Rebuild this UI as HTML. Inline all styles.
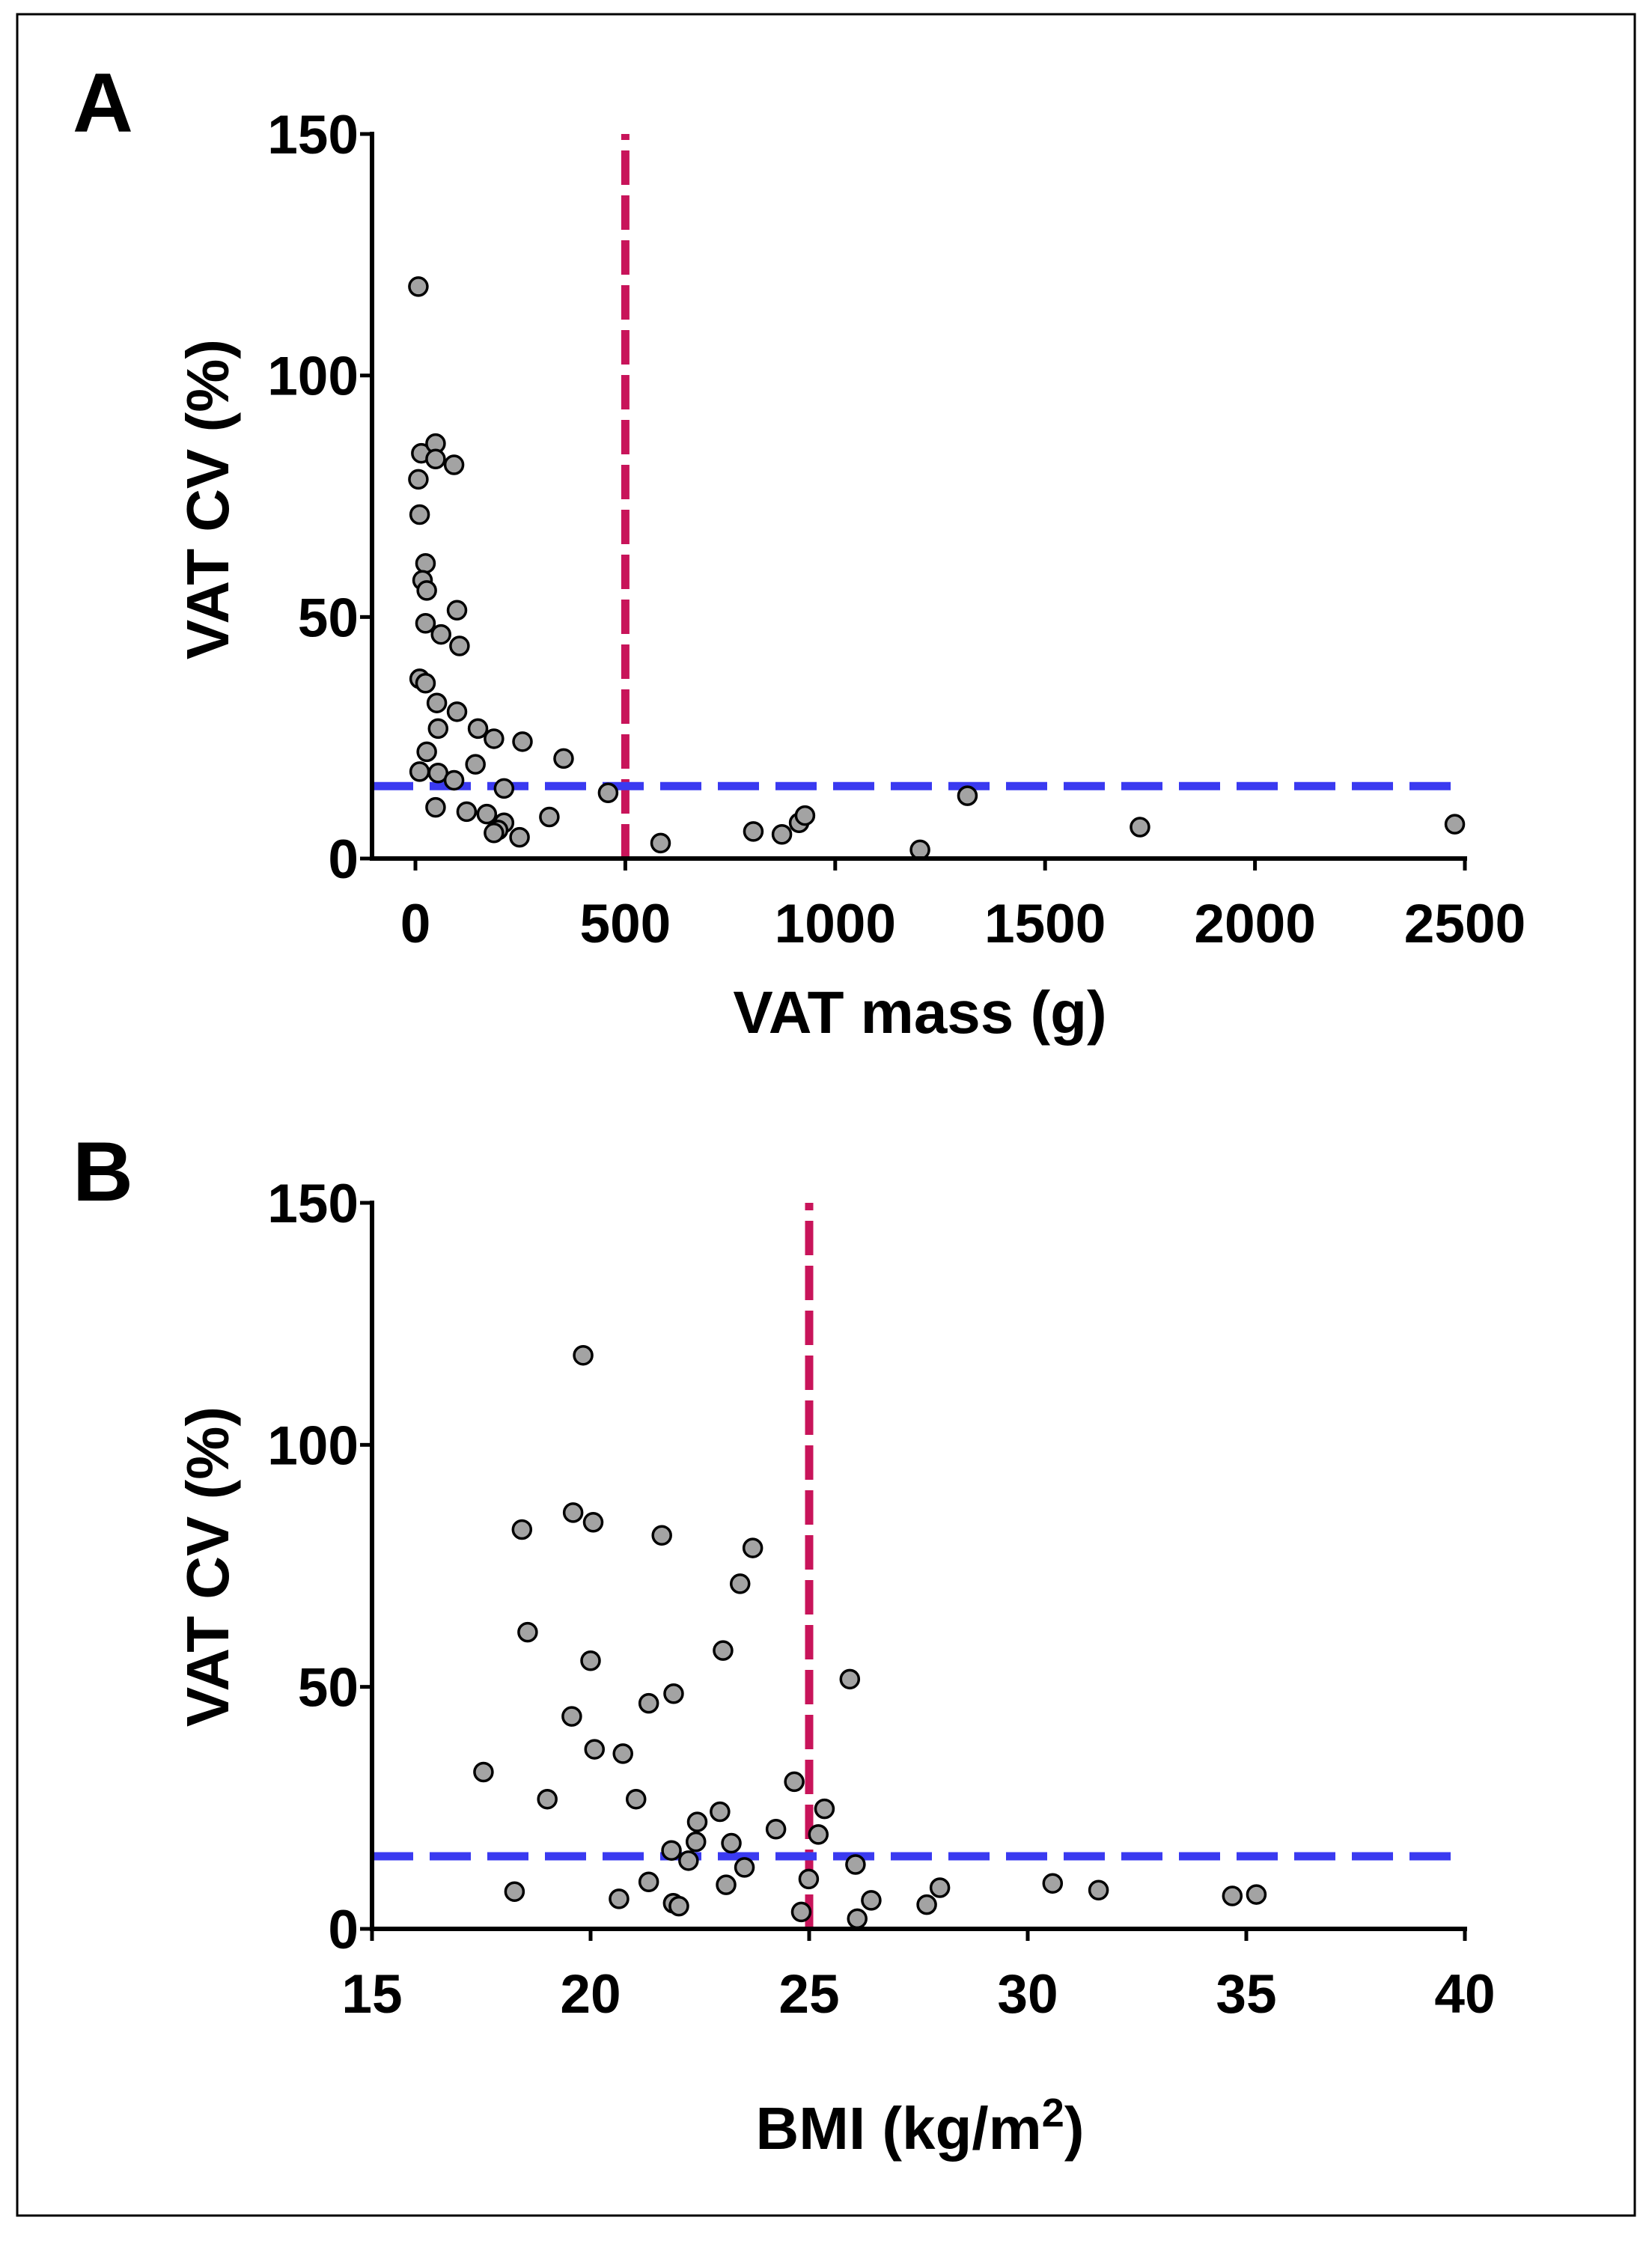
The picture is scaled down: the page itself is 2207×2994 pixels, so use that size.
<!DOCTYPE html>
<html><head><meta charset="utf-8"><style>
html,body{margin:0;padding:0;background:#fff}
svg{display:block}
text{font-family:"Liberation Sans",Arial,sans-serif;font-weight:bold;fill:#000}
</style></head><body>
<svg id="chart" width="2207" height="2994" viewBox="0 0 2207 2994" xmlns="http://www.w3.org/2000/svg">
<rect x="23" y="19" width="2161" height="2941" fill="#fff" stroke="#000" stroke-width="3"/>
</svg>
<script>
const aX=[7,14,48,48,92,7,10,24,17,27,99,24,61,105,10,24,51,99,54,149,187,255,353,27,143,10,54,92,211,459,1315,48,122,170,319,211,197,187,248,584,805,873,914,928,1202,1726,2476];
const aY=[118.4,83.9,85.9,82.7,81.5,78.5,71.2,61.1,57.6,55.5,51.4,48.7,46.4,44,37.2,36.3,32.2,30.4,26.9,26.9,24.8,24.2,20.7,22.1,19.5,18,17.7,16.2,14.5,13.6,13,10.6,9.7,9.2,8.6,7.4,5.9,5.3,4.4,3.2,5.6,5,7.4,8.9,1.8,6.5,7.1];
const bX=[19.83,19.6,20.06,18.43,21.63,23.71,23.42,18.56,20.0,23.03,25.93,21.9,21.33,19.57,20.09,20.74,17.55,24.66,19.01,21.04,22.96,25.35,22.44,24.24,25.21,21.85,22.41,23.22,22.24,26.06,23.52,24.99,21.33,23.1,18.26,27.99,20.65,30.57,31.62,26.42,34.68,35.23,21.89,22.02,27.69,24.82,26.1];
const bY=[118.5,86,84,82.5,81.3,78.7,71.3,61.3,55.4,57.5,51.6,48.6,46.6,43.9,37.1,36.2,32.4,30.4,26.8,26.8,24.2,24.8,22.1,20.6,19.5,16.2,18,17.7,14.1,13.3,12.7,10.3,9.7,9.1,7.7,8.5,6.2,9.4,8,5.9,6.8,7.1,5.3,4.7,5,3.5,2.1];
const aXTicks=[0,500,1000,1500,2000,2500];
const bXTicks=[15,20,25,30,35,40];
const yTicks=[0,50,100,150];
const aThresh=[500,15];
const bThresh=[25,15];

const svg=document.getElementById('chart');
const NS='http://www.w3.org/2000/svg';
function mk(tag,attrs,parent){const e=document.createElementNS(NS,tag);for(const k in attrs)e.setAttribute(k,attrs[k]);(parent||svg).appendChild(e);return e;}

function panel(o){
  const g=mk('g',{});
  
  
  const sx=v=>o.x0px+(v-o.xmin)/(o.xmax-o.xmin)*(o.x1px-o.x0px);
  const sy=v=>o.y0px-(v/150)*(o.y0px-o.y150px);
  const rl=mk('line',{x1:sx(o.thresh[0]),x2:sx(o.thresh[0]),y1:sy(0),y2:sy(150),stroke:'#c8145a','stroke-width':11,'stroke-dasharray':'46 14'},g);
  
  
  const bl=mk('line',{x1:o.axisX,x2:o.x1px,y1:sy(o.thresh[1]),y2:sy(o.thresh[1]),stroke:'#3a3af0','stroke-width':11,'stroke-dasharray':'55 22'},g);
  
  
  for(let i=0;i<o.xs.length;i++){
    const c=mk('circle',{cx:sx(o.xs[i]),cy:sy(o.ys[i]),r:12,fill:'#a3a3a3',stroke:'#000','stroke-width':3.5},g);
    
    
  }
  const ya=mk('line',{x1:o.axisX,x2:o.axisX,y1:sy(150)-3,y2:sy(0)+3,stroke:'#000','stroke-width':6},g);
  
  
  const xa=mk('line',{x1:o.axisX-3,x2:o.x1px+3,y1:sy(0),y2:sy(0),stroke:'#000','stroke-width':6},g);
  
  
  for(const t of yTicks){
    mk('line',{x1:o.axisX-16,x2:o.axisX,y1:sy(t),y2:sy(t),stroke:'#000','stroke-width':5},g);
    const tx=mk('text',{x:o.axisX-18,y:sy(t)+26,'font-size':73,'text-anchor':'end'},g);
    tx.textContent=t;
    
    
  }
  for(const t of o.xticks){
    mk('line',{x1:sx(t),x2:sx(t),y1:sy(0),y2:sy(0)+16,stroke:'#000','stroke-width':5},g);
    const tx=mk('text',{x:sx(t),y:sy(0)+112,'font-size':73,'text-anchor':'middle'},g);
    tx.textContent=t;
    
    
  }
  const yt=mk('text',{x:0,y:0,'font-size':80,'text-anchor':'middle',transform:`translate(305,${o.ytitleY}) rotate(-90)`},g);
  yt.textContent='VAT CV (%)';
  
  
  const xt=mk('text',{x:1229,y:o.xtitleY,'font-size':80,'text-anchor':'middle'},g);
  xt.innerHTML=o.xtitle;
  
  
  const pl=mk('text',{x:97,y:o.labelY,'font-size':112},g);
  pl.textContent=o.label;
  
  
}
panel({id:'a',xs:aX,ys:aY,xticks:aXTicks,thresh:aThresh,xmin:0,xmax:2500,x0px:555,x1px:1957,axisX:497,y0px:1147,y150px:179,ytitleY:667,xtitleY:1380,xtitle:'VAT mass (g)',label:'A',labelY:176});
panel({id:'b',xs:bX,ys:bY,xticks:bXTicks,thresh:bThresh,xmin:15,xmax:40,x0px:497,x1px:1957,axisX:497,y0px:2577,y150px:1607,ytitleY:2093,xtitleY:2871,xtitle:'BMI (kg/m<tspan dy="-30" font-size="54">2</tspan><tspan dy="30">)</tspan>',label:'B',labelY:1604});
</script>
</body></html>
